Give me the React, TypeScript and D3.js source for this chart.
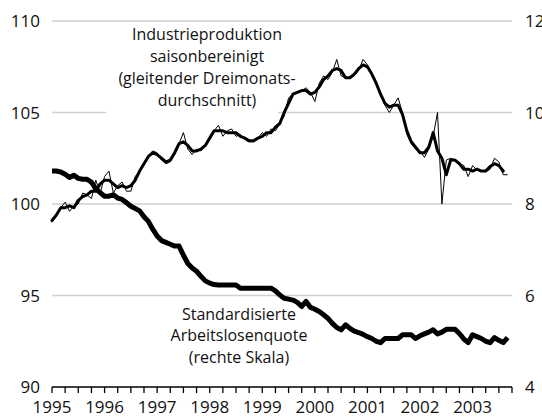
import React from 'react';
import * as d3 from 'd3';

const startYear = 1995;
const yearLabels = ['1995', '1996', '1997', '1998', '1999', '2000', '2001', '2002', '2003'];
const leftTicks = [90, 95, 100, 105, 110];
const rightTicks = [4, 6, 8, 10, 12];

// Industrieproduktion, monthly (Jan 1995 - Sep 2003)
const production = [
  99.0, 99.4, 99.8, 100.1, 99.6, 99.9, 100.0, 100.6, 100.5, 100.3,
  101.3, 100.6, 101.5, 101.8, 100.6, 101.0, 101.2, 100.7, 100.7, 101.5,
  101.8, 102.2, 102.6, 102.9, 102.8, 102.4, 102.2, 102.3, 102.7, 103.3,
  103.9, 103.0, 102.7, 103.0, 102.9, 103.2, 103.6, 104.0, 104.3, 103.7,
  104.0, 104.1, 103.7, 103.8, 103.55, 103.4, 103.4, 103.6, 103.9, 103.7,
  104.1, 104.0, 104.4, 104.8, 105.8, 106.0, 106.1, 106.2, 106.35, 106.1,
  105.6, 106.6, 107.0, 106.8, 107.2, 107.9, 107.0, 106.9, 106.9, 107.0,
  107.3, 107.9, 107.6, 107.1, 106.6, 106.0, 105.4, 105.0, 105.4, 105.8,
  105.0, 103.8, 103.3, 103.0, 102.9, 102.55, 103.0, 103.7, 105.0, 100.0,
  102.4, 102.5, 102.4, 102.2, 102.1, 101.5, 102.1, 101.85, 101.8, 101.75,
  101.9, 102.5, 102.3, 101.6, 101.6,
];

// gleitender Dreimonatsdurchschnitt
const productionAvg = [
  99.1, 99.4, 99.8, 99.8, 99.9, 99.8, 100.2, 100.4, 100.5, 100.7,
  100.7, 101.1, 101.3, 101.3, 101.1, 100.9, 101.0, 100.9, 101.0, 101.3,
  101.8, 102.2, 102.6, 102.8, 102.7, 102.5, 102.3, 102.4, 102.8, 103.3,
  103.4, 103.2, 102.9, 102.9, 103.0, 103.2, 103.6, 104.0, 104.0, 104.0,
  103.9, 103.9, 103.9, 103.7, 103.6, 103.45, 103.45, 103.6, 103.7, 103.9,
  103.9, 104.2, 104.4, 105.0, 105.5, 106.0, 106.1, 106.2, 106.2, 106.0,
  106.1, 106.4, 106.8, 107.0, 107.3, 107.4, 107.3, 106.9, 106.9, 107.1,
  107.4, 107.6, 107.5, 107.1, 106.6, 106.0, 105.5, 105.3, 105.4, 105.4,
  104.9, 104.0, 103.4, 103.1, 102.8, 102.8, 103.1, 103.9, 102.9, 102.5,
  101.6, 102.4, 102.4, 102.2, 101.9, 101.9, 101.8, 101.9, 101.8, 101.8,
  102.05, 102.2, 102.1, 101.8,
];

// Standardisierte Arbeitslosenquote (rechte Skala)
const unemployment = [
  8.72, 8.72, 8.70, 8.65, 8.58, 8.63, 8.56, 8.54, 8.54, 8.48,
  8.33, 8.25, 8.17, 8.17, 8.20, 8.13, 8.10, 8.03, 7.95, 7.90,
  7.85, 7.72, 7.62, 7.45, 7.30, 7.20, 7.16, 7.12, 7.08, 7.08,
  6.88, 6.70, 6.60, 6.53, 6.42, 6.32, 6.27, 6.24, 6.23, 6.23,
  6.23, 6.23, 6.23, 6.16, 6.16, 6.16, 6.16, 6.16, 6.16, 6.16,
  6.16, 6.10, 6.01, 5.94, 5.92, 5.90, 5.85, 5.76, 5.87, 5.74,
  5.70, 5.65, 5.58, 5.50, 5.39, 5.30, 5.25, 5.36, 5.28, 5.22,
  5.19, 5.15, 5.10, 5.06, 5.00, 4.97, 5.06, 5.06, 5.06, 5.06,
  5.14, 5.14, 5.14, 5.06, 5.12, 5.16, 5.20, 5.25, 5.16, 5.20,
  5.26, 5.26, 5.26, 5.17, 5.05, 4.97, 5.14, 5.10, 5.06, 5.00,
  4.97, 5.08, 5.02, 4.97, 5.08,
];

const prodLabel = ['Industrieproduktion', 'saisonbereinigt', '(gleitender Dreimonats-', 'durchschnitt)'];
const unempLabel = ['Standardisierte', 'Arbeitslosenquote', '(rechte Skala)'];

export default function App() {
  const W = 542;
  const H = 418;
  const left = 52;
  const right = 512;
  const top = 21;
  const bottom = 387;
  const font = "'Open Sans', 'Noto Sans', sans-serif";

  const x = d3.scaleLinear().domain([1995, 2003.75]).range([left, right]);
  const yL = d3.scaleLinear().domain([90, 110]).range([bottom, top]);
  const yR = d3.scaleLinear().domain([4, 12]).range([bottom, top]);
  const t = (i: number) => startYear + i / 12;

  const lineL = d3.line<number>().x((_, i) => x(t(i))).y((d) => yL(d));
  const lineR = d3.line<number>().x((_, i) => x(t(i))).y((d) => yR(d));

  const quarterTicks = d3.range(0, 36).map((q) => 1995 + q * 0.25);

  return (
    <svg
      width={W}
      height={H}
      style={{ position: 'absolute', left: 0, top: 0, display: 'block', background: '#fff' }}
      fontFamily={font}
    >
      <rect x={0} y={0} width={W} height={H} fill="#fff" />
      {leftTicks.filter((v) => v !== 90).map((v) => (
        <line key={v} x1={left} x2={right} y1={yL(v)} y2={yL(v)} stroke="#cfcfcf" strokeWidth={1.5} />
      ))}
      {/* gap in the 105 gridline behind the label */}
      <rect x={106} y={yL(105) - 4} width={172} height={8} fill="#fff" />

      {/* axis */}
      <line x1={left} x2={right} y1={bottom} y2={bottom} stroke="#000" strokeWidth={1.5} />
      {quarterTicks.map((q) => (
        <line key={q} x1={x(q)} x2={x(q)} y1={bottom} y2={bottom + 6} stroke="#000" strokeWidth={1.3} />
      ))}
      {yearLabels.map((yl) => (
        <text key={yl} x={x(+yl)} y={413} textAnchor="middle" fontSize={17} fill="#111">
          {yl}
        </text>
      ))}
      {leftTicks.map((v) => (
        <text key={v} x={40} y={yL(v)} dy="0.36em" textAnchor="end" fontSize={17} fill="#111">
          {v}
        </text>
      ))}
      {rightTicks.map((v) => (
        <text key={v} x={525} y={yR(v)} dy="0.36em" textAnchor="start" fontSize={17} fill="#111">
          {v}
        </text>
      ))}

      {/* data */}
      <path d={lineL(production) || ''} fill="none" stroke="#000" strokeWidth={1} strokeLinejoin="miter" />
      <path d={lineL(productionAvg) || ''} fill="none" stroke="#000" strokeWidth={3} strokeLinejoin="round" strokeLinecap="round" />
      <path d={lineR(unemployment) || ''} fill="none" stroke="#000" strokeWidth={5} strokeLinejoin="round" />

      {prodLabel.map((s, i) => (
        <text key={s} x={207} y={40 + i * 22} textAnchor="middle" fontSize={16} fill="#111">
          {s}
        </text>
      ))}
      {unempLabel.map((s, i) => (
        <text key={s} x={239} y={319.5 + i * 21.5} textAnchor="middle" fontSize={16} fill="#111">
          {s}
        </text>
      ))}
    </svg>
  );
}
